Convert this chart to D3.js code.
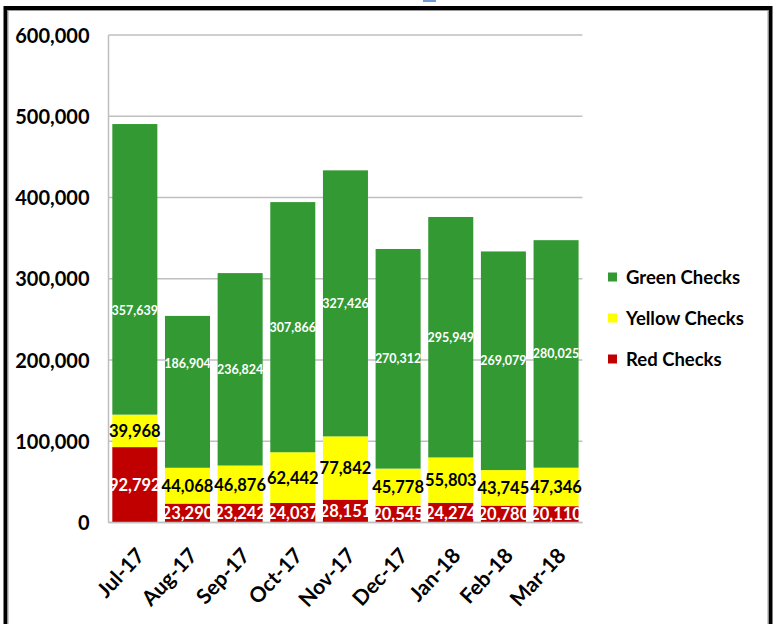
<!DOCTYPE html>
<html>
<head>
<meta charset="utf-8">
<script src="https://cdn.jsdelivr.net/npm/d3@7"></script>
<style>
html,body{margin:0;padding:0;background:#fff;}
svg{display:block;}
text{font-family:Lato,"Open Sans",sans-serif;font-weight:bold;}
</style>
</head>
<body>
<svg id="chart" width="778" height="624"></svg>
<script>
const months = ["Jul-17","Aug-17","Sep-17","Oct-17","Nov-17","Dec-17","Jan-18","Feb-18","Mar-18"];
const redChecks = [92792,23290,23242,24037,28151,20545,24274,20780,20110];
const yellowChecks = [39968,44068,46876,62442,77842,45778,55803,43745,47346];
const greenChecks = [357639,186904,236824,307866,327426,270312,295949,269079,280025];
// where the green data labels sit (value units); null = centred in the segment
const greenLabelAnchor = [260900,195100,null,null,null,null,null,null,null];
const yTicks = [0,100000,200000,300000,400000,500000,600000];
const seriesNames = ["Green Checks","Yellow Checks","Red Checks"];
const seriesColors = {"Red Checks":"#C00000","Yellow Checks":"#FFFF00","Green Checks":"#339933"};

const svg = d3.select("#chart");

// frame
svg.append("rect").attr("x",423).attr("y",-2).attr("width",13).attr("height",4).attr("fill","#6f9bd6");
svg.append("rect").attr("x",5.5).attr("y",8).attr("width",765).attr("height",640)
  .attr("fill","none").attr("stroke","#000").attr("stroke-width",4);
svg.append("rect").attr("x",8).attr("y",10.5).attr("width",760).attr("height",640)
  .attr("fill","none").attr("stroke","#9a9a9a").attr("stroke-width",1);

const plotLeft = 108.5, plotRight = 582.4, plotTop = 35, plotBottom = 522.5;

const x = d3.scaleBand().domain(months).range([plotLeft, plotRight]).paddingInner(0.145).paddingOuter(0.0725);
const y = d3.scaleLinear().domain([0,600000]).range([plotBottom, plotTop]);

// gridlines
svg.append("g").selectAll("line").data(yTicks).join("line")
  .attr("x1",plotLeft).attr("x2",plotRight)
  .attr("y1",d=>y(d)).attr("y2",d=>y(d))
  .attr("stroke","#bfbfbf").attr("stroke-width",1.5);
svg.append("line").attr("x1",plotLeft).attr("x2",plotLeft).attr("y1",plotTop).attr("y2",plotBottom)
  .attr("stroke","#bfbfbf").attr("stroke-width",1.5);

// y axis labels
const yAxis = d3.axisLeft(y).tickValues(yTicks).tickFormat(d3.format(",")).tickSize(0).tickPadding(19);
const gy = svg.append("g").attr("transform",`translate(${plotLeft},0)`).call(yAxis);
gy.select(".domain").remove();
gy.selectAll("text").attr("font-size","20px").attr("fill","#000").attr("dy","0.36em")
  .style("font-family","Lato,sans-serif").style("font-weight","bold");

// stacked data
const rows = months.map((m,i)=>({month:m,"Red Checks":redChecks[i],"Yellow Checks":yellowChecks[i],"Green Checks":greenChecks[i]}));
const stack = d3.stack().keys(["Red Checks","Yellow Checks","Green Checks"]);
const layers = stack(rows);

const g = svg.append("g");
layers.forEach(layer=>{
  g.append("g").selectAll("rect").data(layer).join("rect")
    .attr("x",d=>x(d.data.month)).attr("width",x.bandwidth())
    .attr("y",d=>y(d[1])).attr("height",d=>y(d[0])-y(d[1]))
    .attr("fill",seriesColors[layer.key]);
});

// labels
const fmt = d3.format(",");
layers.forEach(layer=>{
  const key = layer.key;
  const isGreen = key==="Green Checks";
  g.append("g").selectAll("text").data(layer).join("text")
    .attr("x",d=>x(d.data.month)+x.bandwidth()/2)
    .attr("y",(d,i)=>{
      if(isGreen && greenLabelAnchor[i]!=null) return y(greenLabelAnchor[i]);
      return y((d[0]+d[1])/2);
    })
    .attr("dy","0.36em")
    .attr("text-anchor","middle")
    .attr("font-size", isGreen ? "12.5px" : "16.5px")
    .attr("fill", key==="Yellow Checks" ? "#000" : "#fff")
    .text(d=>fmt(d.data[key]));
});

// x axis
svg.append("line").attr("x1",plotLeft).attr("x2",plotRight).attr("y1",plotBottom).attr("y2",plotBottom)
  .attr("stroke","#bfbfbf").attr("stroke-width",1.5);
const xAxis = d3.axisBottom(x).tickSize(0).tickPadding(0);
const gx = svg.append("g").attr("transform",`translate(0,${plotBottom})`).call(xAxis);
gx.select(".domain").remove();
gx.selectAll("text")
  .attr("font-size","21px").attr("fill","#000")
  .style("font-family","Lato,sans-serif").style("font-weight","bold")
  .attr("text-anchor","end").attr("dy",null).attr("y",null)
  .attr("transform","translate(11,34) rotate(-47)");

// legend
const legend = svg.append("g");
const ly = d3.scalePoint().domain(seriesNames).range([277,359]);
legend.selectAll("rect").data(seriesNames).join("rect")
  .attr("x",608).attr("y",d=>ly(d)-4.5).attr("width",9).attr("height",9)
  .attr("fill",d=>seriesColors[d]);
legend.selectAll("text").data(seriesNames).join("text")
  .attr("x",626).attr("y",d=>ly(d)).attr("dy","0.36em")
  .attr("font-size","18.5px").attr("fill","#000")
  .text(d=>d);
</script>
</body>
</html>
